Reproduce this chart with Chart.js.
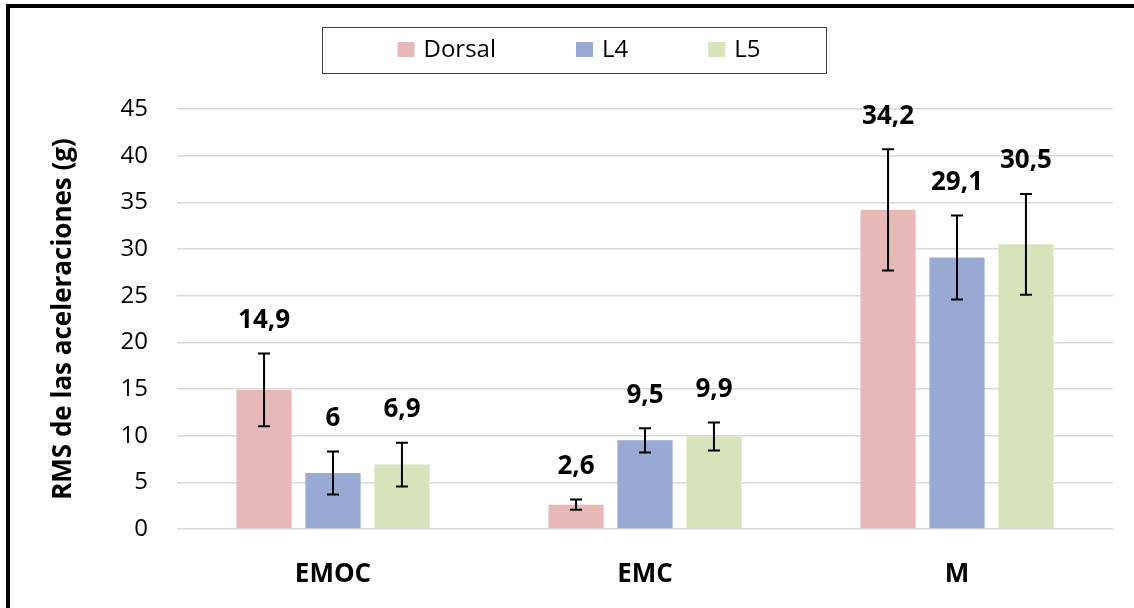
<!DOCTYPE html>
<html>
<head>
<meta charset="utf-8">
<title>RMS de las aceleraciones</title>
<script src="https://cdn.jsdelivr.net/npm/chart.js@4.4.1/dist/chart.umd.min.js"></script>
<style>
  body { margin: 0; background: #fff; }
  #wrap { position: relative; width: 1134px; height: 608px; overflow: hidden; }
  #frame { position: absolute; left: 6px; top: 4px; width: 1140px; height: 600px;
           border-top: 4px solid #000; border-left: 4px solid #000; border-bottom: 2px solid #888;
           pointer-events: none; }
</style>
</head>
<body>
<div id="wrap">
  <canvas id="chart" width="1134" height="608"></canvas>
  <div id="frame"></div>
</div>
<script>
var categories = ['EMOC', 'EMC', 'M'];
var seriesNames = ['Dorsal', 'L4', 'L5'];
var dorsal = [14.9, 2.6, 34.2];
var l4 = [6, 9.5, 29.1];
var l5 = [6.9, 9.9, 30.5];
// error bar half-widths
var errDorsal = [3.9, 0.55, 6.5];
var errL4 = [2.3, 1.3, 4.5];
var errL5 = [2.35, 1.5, 5.4];
var colors = ['#E6B9B8', '#98A9D3', '#D8E4BC'];

var FONT = "'Open Sans', 'DejaVu Sans', sans-serif";

var errorBars = {
  id: 'errorBars',
  afterDatasetsDraw: function(chart) {
    var ctx = chart.ctx;
    var y = chart.scales.y;
    chart.data.datasets.forEach(function(ds, i) {
      var meta = chart.getDatasetMeta(i);
      meta.data.forEach(function(bar, j) {
        var v = ds.data[j], e = ds.errors[j];
        var top = y.getPixelForValue(v + e);
        var bot = y.getPixelForValue(v - e);
        ctx.save();
        ctx.strokeStyle = '#000';
        ctx.lineWidth = 2;
        ctx.beginPath();
        ctx.moveTo(bar.x, top); ctx.lineTo(bar.x, bot);
        ctx.moveTo(bar.x - 6, top); ctx.lineTo(bar.x + 6, top);
        ctx.moveTo(bar.x - 6, bot); ctx.lineTo(bar.x + 6, bot);
        ctx.stroke();
        // value label above the error bar
        ctx.fillStyle = '#000';
        ctx.font = 'bold 26px ' + FONT;
        ctx.textAlign = 'center';
        ctx.textBaseline = 'middle';
        ctx.fillText(String(v).replace('.', ','), bar.x, top - 33);
        ctx.restore();
      });
    });
  }
};

var boxLegend = {
  id: 'boxLegend',
  afterDraw: function(chart) {
    var ctx = chart.ctx;
    ctx.save();
    ctx.font = '24px ' + FONT;
    var items = chart.data.datasets.map(function(ds) {
      return { label: ds.label, color: ds.backgroundColor, w: 17 + 9 + ctx.measureText(ds.label).width };
    });
    var gap = 80;
    var total = items.reduce(function(s, it) { return s + it.w; }, 0) + gap * (items.length - 1);
    var x = 579 - total / 2;
    var cy = 50;
    ctx.strokeStyle = '#404040';
    ctx.lineWidth = 1;
    ctx.strokeRect(322.5, 27.5, 504, 46);
    items.forEach(function(it) {
      ctx.fillStyle = it.color;
      ctx.fillRect(x, cy - 8, 17, 15);
      ctx.fillStyle = '#000';
      ctx.textAlign = 'left';
      ctx.textBaseline = 'middle';
      ctx.fillText(it.label, x + 26, cy);
      x += it.w + gap;
    });
    ctx.restore();
  }
};

new Chart(document.getElementById('chart'), {
  type: 'bar',
  data: {
    labels: categories,
    datasets: [
      { label: seriesNames[0], data: dorsal, errors: errDorsal, backgroundColor: colors[0] },
      { label: seriesNames[1], data: l4, errors: errL4, backgroundColor: colors[1] },
      { label: seriesNames[2], data: l5, errors: errL5, backgroundColor: colors[2] }
    ]
  },
  options: {
    responsive: false,
    animation: false,
    categoryPercentage: 0.663,
    barPercentage: 0.8,
    layout: { padding: { top: 109, left: 38, right: 21, bottom: 0 } },
    plugins: { legend: { display: false }, tooltip: { enabled: false } },
    scales: {
      x: {
        grid: { display: false },
        border: { display: false },
        ticks: { color: '#000', padding: 22, font: { family: FONT, size: 26, weight: 'bold' } },
        afterFit: function(s) { s.height = 79; }
      },
      y: {
        min: 0, max: 45,
        ticks: { stepSize: 5, color: '#000', padding: 29, font: { family: FONT, size: 24 } },
        grid: { color: '#d9d9d9', lineWidth: 1.5, drawTicks: false },
        border: { display: false },
        title: {
          display: true, text: 'RMS de las aceleraciones (g)', color: '#000',
          padding: { top: 10, bottom: 0 },
          font: { family: FONT, size: 26, weight: 'bold' }
        },
        afterFit: function(s) { s.width = 139; }
      }
    }
  },
  plugins: [errorBars, boxLegend]
});
</script>
</body>
</html>
